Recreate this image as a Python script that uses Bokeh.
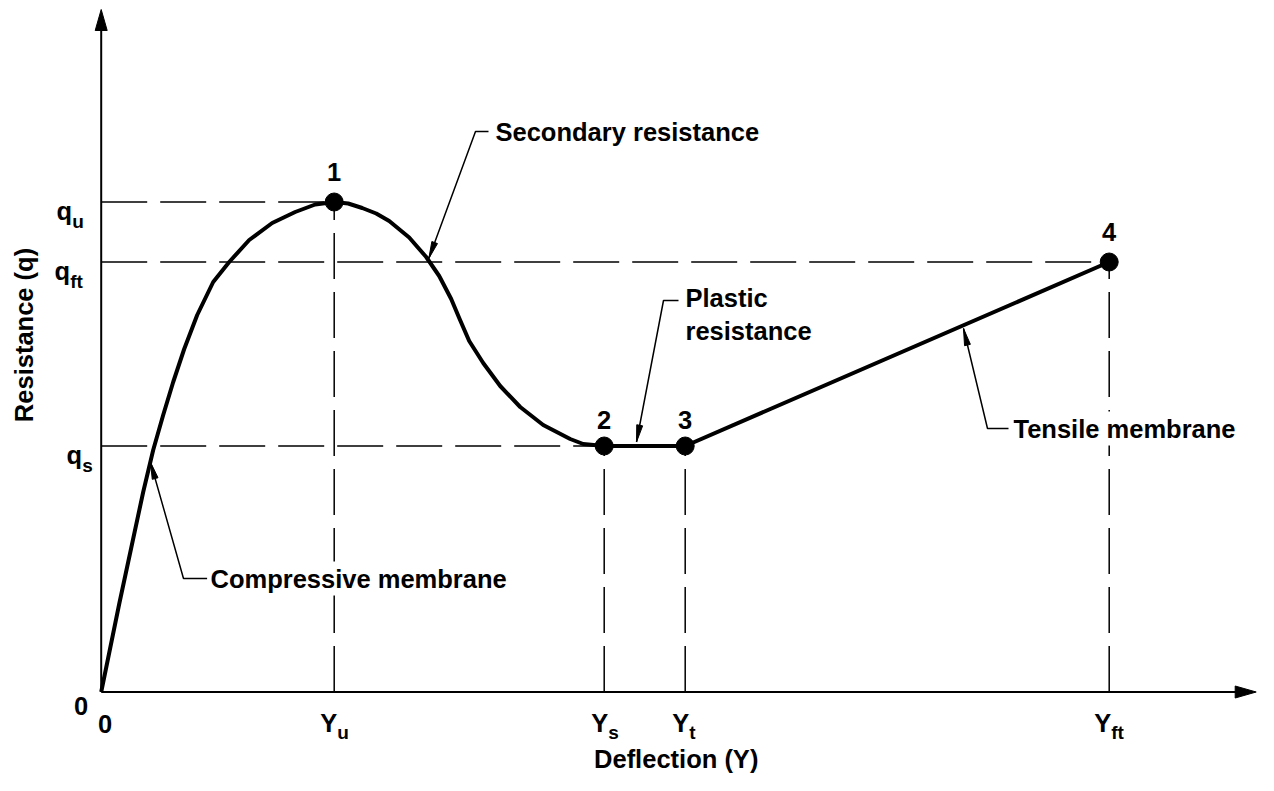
import math
from bokeh.plotting import figure
from bokeh.models import Range1d
from bokeh.core.properties import value
from bokeh.embed import file_html
from bokeh.resources import INLINE

# ---------------- data (arbitrary units) ----------------
curve_defl = [0.00, 0.09, 0.18, 0.30, 0.42, 0.52, 0.62, 0.72, 0.83, 0.96, 1.12, 1.28,
              1.48, 1.71, 1.94, 2.14, 2.33, 2.47, 2.61, 2.75, 2.88, 3.08, 3.25, 3.38,
              3.50, 3.58, 3.68, 3.82, 3.99, 4.19, 4.42, 4.69, 4.82, 5.03, 5.84, 10.08]
curve_q = [0.00, 0.44, 0.88, 1.44, 2.00, 2.42, 2.77, 3.10, 3.43, 3.77, 4.10, 4.30,
           4.52, 4.69, 4.80, 4.875, 4.90, 4.885, 4.84, 4.785, 4.71, 4.545, 4.35, 4.16,
           3.93, 3.74, 3.51, 3.29, 3.06, 2.85, 2.67, 2.53, 2.48, 2.46, 2.46, 4.30]

point_labels = ["1", "2", "3", "4"]
point_defl = [2.33, 5.03, 5.84, 10.08]
point_q = [4.90, 2.46, 2.46, 4.30]

q_subs = ["u", "ft", "s"]
q_levels = [4.90, 4.30, 2.46]          # q_u, q_ft, q_s
q_reach = [2.33, 10.08, 5.03]          # deflection where each dashed level ends

y_subs = ["u", "s", "t", "ft"]
y_levels = [2.33, 5.03, 5.84, 10.08]   # Y_u, Y_s, Y_t, Y_ft
y_reach = [4.90, 2.46, 2.46, 4.30]     # resistance where each dashed drop starts

x_title = "Deflection (Y)"
y_title = "Resistance (q)"

# ---------------- layout / style ----------------
W, H = 1258, 775
PX = 100.0                      # pixels per data unit on both axes
X0, Y0 = -1.007, -0.835
FONT = value("Liberation Sans")
FS = "25.5px"
SUBFS = "19px"

p = figure(width=W, height=H, x_range=Range1d(X0, X0 + W / PX),
           y_range=Range1d(Y0, Y0 + H / PX), x_axis_location=None,
           y_axis_location=None, toolbar_location=None, output_backend="svg",
           min_border=0, outline_line_color=None, background_fill_color="white")
p.grid.visible = False


def head(tx, ty, fx, fy, length, width):
    dx, dy = (tx - fx) * PX, (ty - fy) * PX
    n = math.hypot(dx, dy)
    ux, uy = dx / n, dy / n
    bx, by = tx * PX - ux * length, ty * PX - uy * length
    nx, ny = -uy, ux
    xs = [tx, (bx + nx * width / 2) / PX, (bx - nx * width / 2) / PX]
    ys = [ty, (by + ny * width / 2) / PX, (by - ny * width / 2) / PX]
    return xs, ys


# axes with arrow heads
x_tip, y_tip = 11.55, 6.825
p.multi_line(xs=[[0, x_tip - 0.1], [0, 0]], ys=[[0, 0], [0, y_tip - 0.1]],
             line_color="black", line_width=2)
hx1, hy1 = head(x_tip, 0, 0, 0, 21, 12)
hx2, hy2 = head(0, y_tip, 0, 0, 21, 12)
p.patches(xs=[hx1, hx2], ys=[hy1, hy2], fill_color="black", line_color="black")

# dashed guide lines
p.segment(x0=[0] * len(q_levels), y0=q_levels, x1=q_reach, y1=q_levels,
          line_color="black", line_width=1.5, line_dash="46 13")
p.segment(x0=y_levels, y0=[0] * len(y_levels), x1=y_levels, y1=y_reach,
          line_color="black", line_width=1.5, line_dash="46 13")

# resistance curve
p.line(curve_defl, curve_q, line_color="black", line_width=4, line_join="round")
p.scatter(point_defl, point_q, size=18, color="black")
p.text(x=point_defl, y=point_q, text=point_labels, y_offset=[-30, -26, -26, -30],
       text_align="center", text_baseline="middle", text_font=FONT,
       text_font_style="bold", text_font_size=FS, text_color="black")

# tick labels on the resistance axis
q_off = [-29, -31, -19]
p.text(x=[0] * 3, y=q_levels, text=["q"] * 3, x_offset=q_off, y_offset=[9] * 3,
       text_align="right", text_baseline="alphabetic", text_font=FONT,
       text_font_style="bold", text_font_size=FS)
p.text(x=[0] * 3, y=q_levels, text=q_subs, x_offset=q_off, y_offset=[19] * 3,
       text_align="left", text_baseline="alphabetic", text_font=FONT,
       text_font_style="bold", text_font_size=SUBFS)

# tick labels on the deflection axis
y_off = [3, 4, 4, 2]
p.text(x=y_levels, y=[0] * 4, text=["Y"] * 4, x_offset=y_off, y_offset=[31] * 4,
       text_align="right", text_baseline="alphabetic", text_font=FONT,
       text_font_style="bold", text_font_size=FS)
p.text(x=y_levels, y=[0] * 4, text=y_subs, x_offset=y_off, y_offset=[40] * 4,
       text_align="left", text_baseline="alphabetic", text_font=FONT,
       text_font_style="bold", text_font_size=SUBFS)

# zeros
p.text(x=[0, 0], y=[0, 0], text=["0", "0"], x_offset=[4, -13], y_offset=[32, 14],
       text_align=["center", "right"], text_baseline="alphabetic", text_font=FONT,
       text_font_size=FS, text_font_style="bold")

# axis titles
p.text(x=[5.75], y=[-0.665], text=[x_title], text_align="center",
       text_baseline="alphabetic", text_font=FONT, text_font_style="bold",
       text_font_size=FS)
p.text(x=[-0.775], y=[3.57], text=[y_title], angle=math.pi / 2, text_align="center",
       text_baseline="middle", text_font=FONT, text_font_style="bold",
       text_font_size=FS)

# annotations with leader arrows
notes = [
    # text lines, text x, text y (middle of first line), leader points (start, corner, tip)
    (["Secondary resistance"], 3.913, 5.605, [(3.873, 5.605), (3.743, 5.605), (3.276, 4.335)]),
    (["Plastic", "resistance"], 5.813, 3.94, [(5.773, 3.915), (5.623, 3.915), (5.353, 2.50)]),
    (["Tensile membrane"], 9.093, 2.635, [(9.073, 2.635), (8.863, 2.635), (8.623, 3.635)]),
    (["Compressive membrane"], 1.063, 1.135, [(1.06, 1.135), (0.823, 1.135), (0.493, 2.298)]),
]
tx, ty, tt = [], [], []
lxs, lys, hxs, hys = [], [], [], []
for lines, x, y, pts in notes:
    for i, s in enumerate(lines):
        tx.append(x)
        ty.append(y - i * 0.325)
        tt.append(s)
    lxs.append([q[0] for q in pts])
    lys.append([q[1] for q in pts])
    a, b = head(pts[-1][0], pts[-1][1], pts[-2][0], pts[-2][1], 17, 6)
    hxs.append(a)
    hys.append(b)
p.multi_line(xs=lxs, ys=lys, line_color="black", line_width=1.5)
p.patches(xs=hxs, ys=hys, fill_color="black", line_color="black")
note_kw = dict(x=tx, y=ty, text=tt, text_align="left", text_baseline="middle",
               text_font=FONT, text_font_style="bold", text_font_size=FS)
try:
    p.text(background_fill_color="white", padding=3, **note_kw)
except Exception:
    p.text(**note_kw)

open("out.html", "w").write(file_html(p, INLINE))
